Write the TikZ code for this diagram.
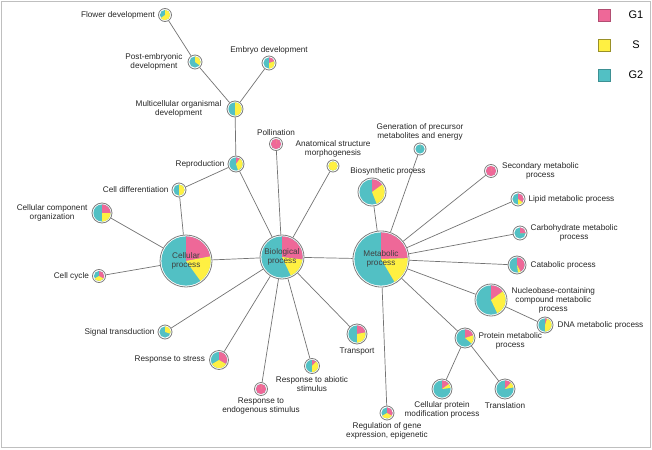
\documentclass[tikz,border=0pt]{standalone}
\usepackage{fontspec}
\setmainfont{Liberation Sans}
\usepackage{tikz}
\usepackage{xcolor}
\usetikzlibrary{positioning}
\definecolor{gone}{RGB}{238,104,152}
\definecolor{sphase}{RGB}{255,240,66}
\definecolor{gtwo}{RGB}{82,192,196}
\definecolor{outline}{RGB}{125,125,125}
\definecolor{linkgray}{RGB}{115,115,115}

% pie node: name, position, radius, G1 share, S share (G2 is the rest)
\newcommand{\gopie}[5]{%
  \pgfmathsetmacro{\angA}{90-360*#4}%
  \pgfmathsetmacro{\angB}{\angA-360*#5}%
  \pgfmathsetmacro{\rin}{#3-1.4}%
  \fill[gtwo] (#2) circle[radius=\rin pt];
  \fill[gone] (#2) -- ++(90:\rin pt) arc[start angle=90, end angle=\angA, radius=\rin pt] -- cycle;
  \fill[sphase] (#2) -- ++(\angA:\rin pt) arc[start angle=\angA, end angle=\angB, radius=\rin pt] -- cycle;
  \node[gonode, minimum size={2*#3pt}] (#1) at (#2) {};
}

\tikzset{
  gonode/.style={circle, draw=outline, line width=0.8pt, inner sep=0pt},
  link/.style={draw=linkgray, line width=0.7pt},
  lbl/.style={inner sep=0pt, align=center, text=black!85, font=\fontsize{8.2}{9}\selectfont},
  inlbl/.style={inner sep=0pt, align=center, text=black!75, font=\fontsize{8.2}{9.5}\selectfont},
  legbox/.style={minimum size=12pt, inner sep=0pt, line width=0.6pt},
  leglbl/.style={inner sep=0pt, font=\fontsize{11}{12}\selectfont}
}

\begin{document}
\begin{tikzpicture}[x=1pt, y=-1pt]
    \useasboundingbox (0,0) rectangle (652,449);
    \draw[black!25, line width=1pt] (1.5,1.5) rectangle (650.5,447.5);

    % top branch
    \gopie{flower}{165,15}{6.5}{0}{0.65}
    \gopie{postemb}{195,62}{7}{0}{0.35}
    \gopie{embryo}{269,63}{7}{0.2}{0.3}
    \gopie{multicell}{235,109}{8}{0}{0.5}
    \gopie{reprod}{236,164}{8}{0.1}{0.35}
    \gopie{celldiff}{179,190}{7}{0}{0.5}
    \gopie{pollin}{276,144}{6.5}{1}{0}
    \gopie{anatom}{333,166}{6}{0}{1}
    \gopie{genprec}{420,149}{6}{0}{0}

    % main hubs
    \gopie{cellp}{186,261}{26}{0.22}{0.18}
    \gopie{biop}{282,257}{22}{0.27}{0.16}
    \gopie{metap}{381,259}{28}{0.245}{0.17}

    % left side
    \gopie{cellcomp}{102,213}{10}{0.25}{0.25}
    \gopie{cellcyc}{99,276}{6.5}{0.333}{0.333}
    \gopie{signal}{165,332}{7}{0}{0.3}
    \gopie{stress}{219,360}{9.5}{0.333}{0.333}
    \gopie{endog}{261,389}{6.5}{1}{0}
    \gopie{abiotic}{312,366}{7.5}{0.12}{0.38}
    \gopie{transp}{357,334}{10}{0.22}{0.28}

    % metabolic side
    \gopie{biosyn}{372,192}{14}{0.15}{0.29}
    \gopie{secmeta}{491,171}{6.5}{1}{0}
    \gopie{lipid}{518,199}{7}{0.35}{0.15}
    \gopie{carbo}{520,233}{7}{0.25}{0}
    \gopie{catab}{517,265}{9}{0.42}{0.06}
    \gopie{nucleo}{491,300}{16}{0.15}{0.28}
    \gopie{dnameta}{545,325}{8}{0.05}{0.45}
    \gopie{protmeta}{465,338}{10}{0.2}{0.16}
    \gopie{protmod}{442,389}{10}{0.15}{0.08}
    \gopie{transl}{505,389}{10}{0.12}{0.1}
    \gopie{regul}{387,413}{7}{0.333}{0.333}

    % links
    \draw[link] (flower) -- (postemb);
    \draw[link] (postemb) -- (multicell);
    \draw[link] (embryo) -- (multicell);
    \draw[link] (multicell) -- (reprod);
    \draw[link] (reprod) -- (celldiff);
    \draw[link] (reprod) -- (biop);
    \draw[link] (celldiff) -- (cellp);
    \draw[link] (cellcomp) -- (cellp);
    \draw[link] (cellcyc) -- (cellp);
    \draw[link] (cellp) -- (biop);
    \draw[link] (pollin) -- (biop);
    \draw[link] (anatom) -- (biop);
    \draw[link] (biop) -- (metap);
    \draw[link] (biop) -- (signal);
    \draw[link] (biop) -- (stress);
    \draw[link] (biop) -- (endog);
    \draw[link] (biop) -- (abiotic);
    \draw[link] (biop) -- (transp);
    \draw[link] (metap) -- (biosyn);
    \draw[link] (metap) -- (genprec);
    \draw[link] (metap) -- (secmeta);
    \draw[link] (metap) -- (lipid);
    \draw[link] (metap) -- (carbo);
    \draw[link] (metap) -- (catab);
    \draw[link] (metap) -- (nucleo);
    \draw[link] (metap) -- (protmeta);
    \draw[link] (metap) -- (regul);
    \draw[link] (nucleo) -- (dnameta);
    \draw[link] (protmeta) -- (protmod);
    \draw[link] (protmeta) -- (transl);

    % labels
    \node[inlbl] (cellpT) at (cellp) {Cellular\\process};
    \node[inlbl] (biopT) at (biop) {Biological\\process};
    \node[inlbl] (metapT) at (metap) {Metabolic\\process};

    \node[lbl, left=3pt of flower] (flowerL) {Flower development};
    \node[lbl, left=5pt of postemb] (postembL) {Post-embryonic\\development};
    \node[lbl, above=1.5pt of embryo] (embryoL) {Embryo development};
    \node[lbl, left=5pt of multicell] (multicellL) {Multicellular organismal\\development};
    \node[lbl, left=3pt of reprod] (reprodL) {Reproduction};
    \node[lbl, left=3pt of celldiff] (celldiffL) {Cell differentiation};
    \node[lbl, above=1.5pt of pollin] (pollinL) {Pollination};
    \node[lbl, above=2pt of anatom] (anatomL) {Anatomical structure\\morphogenesis};
    \node[lbl, above=2pt of genprec] (genprecL) {Generation of precursor\\metabolites and energy};
    \node[lbl, left=4pt of cellcomp] (cellcompL) {Cellular component\\organization};
    \node[lbl, left=3pt of cellcyc] (cellcycL) {Cell cycle};
    \node[lbl, left=3pt of signal] (signalL) {Signal transduction};
    \node[lbl, left=4pt of stress] (stressL) {Response to stress};
    \node[lbl, below=2pt of endog] (endogL) {Response to\\endogenous stimulus};
    \node[lbl, below=2pt of abiotic] (abioticL) {Response to abiotic\\stimulus};
    \node[lbl, below=3pt of transp] (transpL) {Transport};
    \node[lbl, above=2pt of biosyn, xshift=16pt] (biosynL) {Biosynthetic process};
    \node[lbl, right=4pt of secmeta] (secmetaL) {Secondary metabolic\\process};
    \node[lbl, right=3pt of lipid] (lipidL) {Lipid metabolic process};
    \node[lbl, right=3pt of carbo] (carboL) {Carbohydrate metabolic\\process};
    \node[lbl, right=4pt of catab] (catabL) {Catabolic process};
    \node[lbl, right=4pt of nucleo] (nucleoL) {Nucleobase-containing\\compound metabolic\\process};
    \node[lbl, right=4pt of dnameta] (dnametaL) {DNA metabolic process};
    \node[lbl, right=3pt of protmeta, yshift=-3pt] (protmetaL) {Protein metabolic\\process};
    \node[lbl, below=2pt of protmod] (protmodL) {Cellular protein\\modification process};
    \node[lbl, below=3pt of transl] (translL) {Translation};
    \node[lbl, below=2pt of regul] (regulL) {Regulation of gene\\expression, epigenetic};

    % legend
    \node[legbox, fill=gone, draw=gone!75!black] (legone) at (604,15) {};
    \node[legbox, fill=sphase, draw=sphase!60!black] (legs) at (604,45) {};
    \node[legbox, fill=gtwo, draw=gtwo!75!black] (legtwo) at (604,75) {};
    \node[leglbl] (legoneL) at (636,15) {G1};
    \node[leglbl] (legsL) at (636,45) {S};
    \node[leglbl] (legtwoL) at (636,75) {G2};
\end{tikzpicture}
\end{document}
